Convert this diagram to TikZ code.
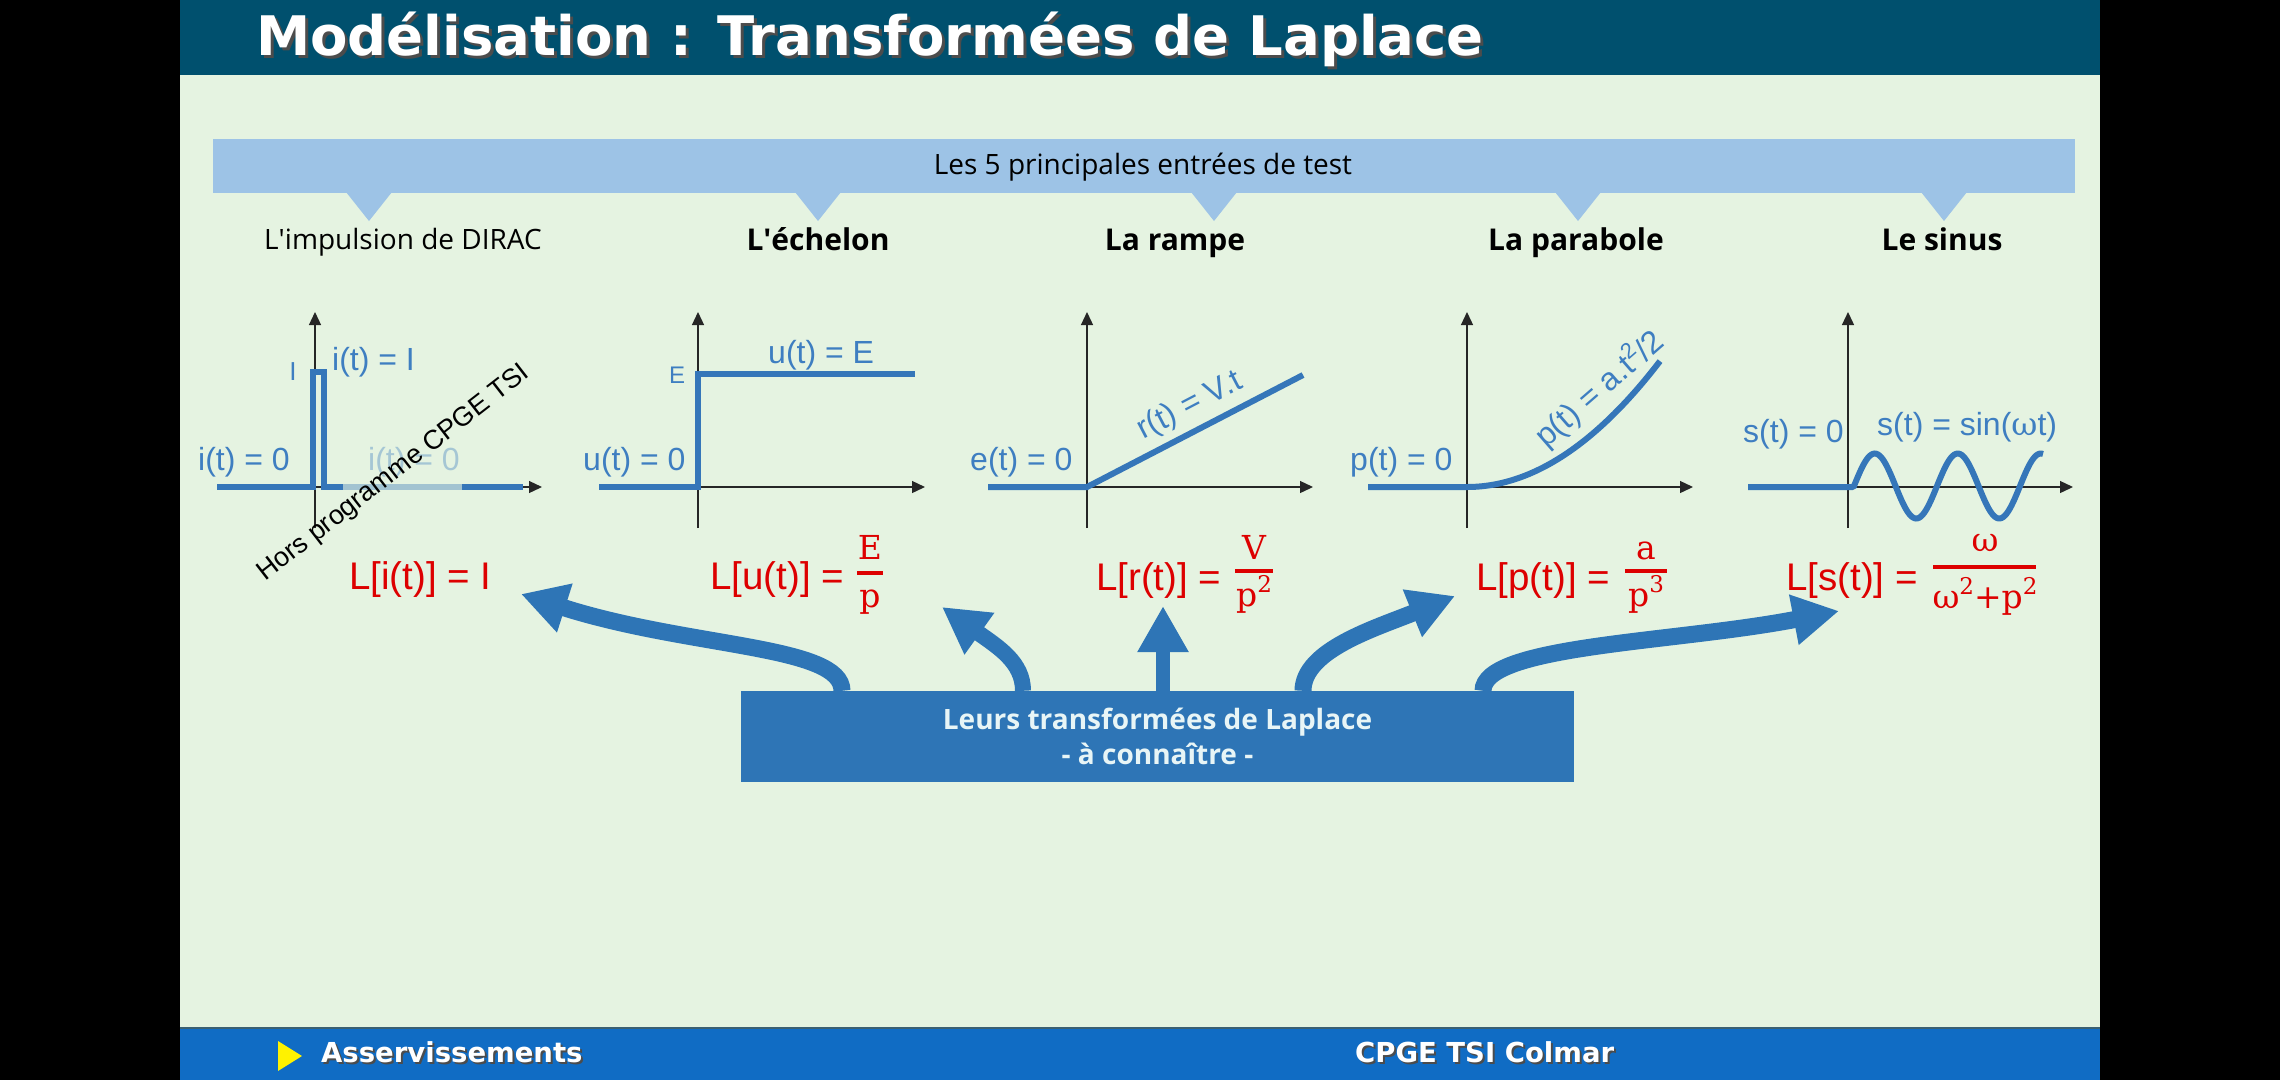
\documentclass[tikz,border=0pt]{standalone}
\usepackage{fontspec}
\setmainfont{Liberation Sans}
\newfontfamily\headfont{Open Sans}
\newfontfamily\titlefont{DejaVu Sans}
\newfontfamily\fracfont{DejaVu Serif}
\usetikzlibrary{arrows.meta}

\newcommand{\setfs}[1]{\fontsize{#1}{#1}\selectfont}
\newcommand{\supr}[1]{\raisebox{0.42em}{\setfs{23}#1}}

\definecolor{slidebg}{HTML}{E5F3E1}
\definecolor{topbar}{HTML}{00506E}
\definecolor{footbar}{HTML}{106CC4}
\definecolor{footline}{HTML}{3A6072}
\definecolor{band}{HTML}{9DC3E6}
\definecolor{curve}{HTML}{3576B9}
\definecolor{lab}{HTML}{3E7EC1}
\definecolor{boxblue}{HTML}{2E75B6}
\definecolor{boxtext}{HTML}{E8F5F6}
\definecolor{formred}{HTML}{DD0000}

\begin{document}
\begin{tikzpicture}[x=1pt,y=-1pt,
  axis/.style={draw=black!85, line width=1.3pt, -{Triangle[length=13pt,width=12pt]}},
  signal/.style={draw=curve, line width=6pt, line join=miter},
  lbl/.style={text=lab, font=\setfs{32}, inner sep=0pt, anchor=base west},
  heading/.style={font=\headfont\setfs{28}, inner sep=0pt, anchor=base},
  bheading/.style={heading, font=\headfont\bfseries\setfs{30}},
  form/.style={text=formred, font=\setfs{38.5}, inner sep=0pt, anchor=base west},
  fracpart/.style={text=formred, font=\fracfont\setfs{33}, inner sep=0pt, anchor=base},
  fracbar/.style={draw=formred, line width=3.5pt},
  bigarrow/.style={draw=boxblue, line width=17pt, -{Triangle[length=46pt,width=48pt]}},
  shadowtext/.style={text=black!70, inner sep=0pt, anchor=base west},
  bartext/.style={text=white, inner sep=0pt, anchor=base west}]

\useasboundingbox (0,0) rectangle (2280,1080);
\fill[black] (0,0) rectangle (2280,1080);
\fill[slidebg] (180,0) rectangle (2100,1080);

% title bar
\fill[topbar] (180,0) rectangle (2100,75);
\node[shadowtext, font=\titlefont\bfseries\setfs{54.5}] at (259,58) {Modélisation : Transformées de Laplace};
\node[bartext, font=\titlefont\bfseries\setfs{54.5}] (title) at (256,55) {Modélisation : Transformées de Laplace};

% footer
\fill[footbar] (180,1027) rectangle (2100,1080);
\draw[footline, line width=2pt] (180,1028) -- (2100,1028);
\fill[yellow] (278,1041) -- (302,1056) -- (278,1071) -- cycle;
\node[shadowtext, font=\titlefont\bfseries\setfs{27.5}] at (323,1064) {Asservissements};
\node[bartext, font=\titlefont\bfseries\setfs{27.5}] (foot1) at (321,1062) {Asservissements};
\node[shadowtext, font=\titlefont\bfseries\setfs{27.5}] at (1357,1064) {CPGE TSI Colmar};
\node[bartext, font=\titlefont\bfseries\setfs{27.5}] (foot2) at (1355,1062) {CPGE TSI Colmar};

% band with its pointers
\fill[band] (213,139) rectangle (2075,193);
\foreach \px in {369,818,1214,1578,1944}
  \fill[band] (\px-23,192) -- (\px+23,192) -- (\px,221) -- cycle;
\node[heading] (bandtext) at (1143,174) {Les 5 principales entrées de test};

% headings
\node[heading] (h1) at (403,249) {L\textquotesingle impulsion de DIRAC};
\node[bheading] (h2) at (818,250) {L\textquotesingle échelon};
\node[bheading] (h3) at (1175,250) {La rampe};
\node[bheading] (h4) at (1576,250) {La parabole};
\node[bheading] (h5) at (1942,250) {Le sinus};

% ---- Dirac impulse
\draw[axis] (315,528) -- (315,312);
\draw[axis] (315,487) -- (542,487);
\draw[signal] (217,487) -- (313,487) -- (313,372) -- (324,372) -- (324,487) -- (523,487);
\node[lbl, font=\setfs{26}, anchor=base] (iI) at (293,380) {I};
\node[lbl] (iIlab) at (332,370) {i(t) = I};
\node[lbl] (i0a) at (198,470) {i(t) = 0};
\node[lbl] (i0b) at (368,470) {i(t) = 0};
\fill[slidebg, opacity=0.62] (343,440) rectangle (462,493);
\node[inner sep=0pt, anchor=base west, rotate=37.8, font=\setfs{27}] (hors) at (265,582) {Hors programme CPGE TSI};

% ---- step
\draw[axis] (698,528) -- (698,312);
\draw[axis] (698,487) -- (925,487);
\draw[signal] (599,487) -- (698,487) -- (698,374) -- (915,374);
\node[lbl, font=\setfs{24}, anchor=base] (uE) at (677,383) {E};
\node[lbl] (uElab) at (768,363) {u(t) = E};
\node[lbl] (u0) at (583,470) {u(t) = 0};

% ---- ramp
\draw[axis] (1087,528) -- (1087,312);
\draw[axis] (1087,487) -- (1313,487);
\draw[signal] (988,487) -- (1087,487) -- (1303,375);
\node[lbl] (e0) at (970,470) {e(t) = 0};
\node[lbl, rotate=27.5] (rlab) at (1143,440) {r(t) = V.t};

% ---- parabola
\draw[axis] (1467,528) -- (1467,312);
\draw[axis] (1467,487) -- (1693,487);
\draw[signal] (1368,487) -- (1467,487)
  -- plot[domain=0:193, samples=60] ({1467+\x}, {487-0.338*(\x/10)*(\x/10)});
\node[lbl] (p0) at (1350,470) {p(t) = 0};
\node[lbl, rotate=41] (plab) at (1546,449) {p(t) = a.t\raisebox{0.4em}{\setfs{22}2}/2};

% ---- sine
\draw[axis] (1848,528) -- (1848,312);
\draw[axis] (1848,487) -- (2073,487);
\draw[signal] (1748,487) -- (1852,487)
  -- plot[domain=0:189, samples=120] ({1854+\x}, {486-32.5*sin(4.3373*\x)});
\node[lbl] (s0) at (1743,442) {s(t) = 0};
\node[lbl] (slab) at (1877,435) {s(t) = sin({\fracfont ω}t)};

% ---- Laplace transforms
\node[form] (f1) at (349,589) {L[i(t)] = I};

\node[form] (f2) at (710,589) {L[u(t)] =};
\draw[fracbar] (857,573) -- (883,573);
\node[fracpart] (n2) at (870,559) {E};
\node[fracpart] (d2) at (870,607) {p};

\node[form] (f3) at (1096,590) {L[r(t)] =};
\draw[fracbar] (1235,571) -- (1273,571);
\node[fracpart] (n3) at (1254,559) {V};
\node[fracpart] (d3) at (1254,606) {p\supr{2}};

\node[form] (f4) at (1476,590) {L[p(t)] =};
\draw[fracbar] (1625,571) -- (1667,571);
\node[fracpart] (n4) at (1646,559) {a};
\node[fracpart] (d4) at (1646,606) {p\supr{3}};

\node[form] (f5) at (1786,590) {L[s(t)] =};
\draw[fracbar] (1933,567) -- (2036,567);
\node[fracpart] (n5) at (1985,551) {ω};
\node[fracpart] (d5) at (1985,608) {ω\supr{2}+p\supr{2}};

% ---- central box and its arrows
\node[fill=boxblue, minimum width=833pt, minimum height=91pt, inner sep=0pt,
      align=center, text=boxtext, font=\headfont\bfseries\fontsize{28}{35}\selectfont]
  (box) at (1157.5,736.5) {Leurs transformées de Laplace\\- à connaître -};

\coordinate (t1) at (521,594);
\coordinate (t2) at (942,607);
\coordinate (t3) at (1163,606);
\coordinate (t4) at (1455,596);
\coordinate (t5) at (1839,611);

\draw[bigarrow] ([xshift=-315.5pt]box.north) .. controls (842,645) and (690,648) .. (t1);
\draw[bigarrow, line width=16pt] ([xshift=-134.5pt]box.north) .. controls (1023,662) and (998,647) .. (t2);
\draw[bigarrow, line width=14pt] ([xshift=5.5pt]box.north) -- (t3);
\draw[bigarrow] ([xshift=145.5pt]box.north) .. controls (1303,650) and (1376,628) .. (t4);
\draw[bigarrow] ([xshift=325.5pt]box.north) .. controls (1483,645) and (1673,643) .. (t5);

\end{tikzpicture}
\end{document}
